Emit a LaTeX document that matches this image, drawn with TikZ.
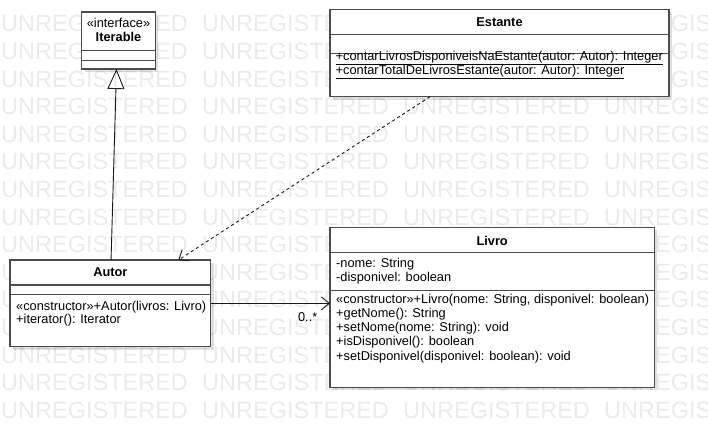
\documentclass[tikz,border=0pt]{standalone}
\usepackage{fontspec}
\setmainfont{Liberation Sans}
\usetikzlibrary{arrows.meta,calc,shadows}
\newcommand\umlfont{\fontsize{12.8}{14.3}\selectfont}
\begin{document}
\begin{tikzpicture}[x=1pt,y=-1pt,
  wm/.style={inner sep=0pt, text=black!8, font=\fontsize{23.5}{23.5}\selectfont, anchor=base west},
  box/.style={draw=black!70, line width=1.4pt, fill=white, inner sep=0pt, outer sep=0pt,
    drop shadow={shadow xshift=3pt, shadow yshift=-3pt, opacity=0.12, fill=black}},
  sep/.style={draw=black!70, line width=1.4pt},
  txt/.style={inner sep=0pt, anchor=base west, font=\umlfont},
  ttl/.style={inner sep=0pt, anchor=base, font=\umlfont\bfseries},
  conn/.style={draw=black!90, line width=0.9pt},
  barb/.style={-{Straight Barb[length=8pt,width=13pt]}},
  gen/.style={-{Triangle[open,length=20pt,width=17pt]}}
]
\useasboundingbox (0,0) rectangle (708,428);
\fill[white] (0,0) rectangle (708,428);
% watermark
\begin{scope}
\clip (0,0) rectangle (708,428);
\foreach \k in {0,...,14}{
  \foreach \j in {0,...,3}{
    \node[wm] (w-\k-\j) at ({1+201*\j},{31.8+27.6*\k}) {UNREGISTERED};
  }
}
\end{scope}

% boxes
\node[box, minimum width=73.6pt, minimum height=57pt] (iterable) at (118.5,40.5) {};
\node[box, minimum width=339pt, minimum height=87.4pt] (estante) at (499.5,53) {};
\node[box, minimum width=200.7pt, minimum height=86.7pt] (autor) at (110.35,303.35) {};
\node[box, minimum width=324.3pt, minimum height=160pt] (livro) at (492.15,307.3) {};

% separators
\draw[sep] (iterable.west |- 0,50.7) -- (iterable.east |- 0,50.7);
\draw[sep] (iterable.west |- 0,60.3) -- (iterable.east |- 0,60.3);
\draw[sep] (estante.west |- 0,34.3) -- (estante.east |- 0,34.3);
\draw[sep] (estante.west |- 0,53.3) -- (estante.east |- 0,53.3);
\draw[sep] (autor.west |- 0,285) -- (autor.east |- 0,285);
\draw[sep] (autor.west |- 0,294.3) -- (autor.east |- 0,294.3);
\draw[sep] (livro.west |- 0,252.7) -- (livro.east |- 0,252.7);
\draw[sep] (livro.west |- 0,290.7) -- (livro.east |- 0,290.7);

% texts
\node[txt, anchor=base] (it-st) at (118.5,27.3) {«interface»};
\node[ttl] (it-name) at (118.5,41.7) {Iterable};

\node[ttl] (es-name) at (499.5,26.5) {Estante};
\node[txt] (es-m1) at (335.5,60) {\underline{+contarLivrosDisponiveisNaEstante(autor: Autor): Integer}};
\node[txt] (es-m2) at (335.5,74.3) {\underline{+contarTotalDeLivrosEstante(autor: Autor): Integer}};

\node[ttl] (au-name) at (110.35,276.7) {Autor};
\node[txt] (au-m1) at (16,310) {«constructor»+Autor(livros: Livro)};
\node[txt] (au-m2) at (16,323.3) {+iterator(): Iterator};

\node[ttl] (li-name) at (492.15,245) {Livro};
\node[txt] (li-a1) at (336,267) {-nome: String};
\node[txt] (li-a2) at (336,281.5) {-disponivel: boolean};
\node[txt] (li-m1) at (336,303) {«constructor»+Livro(nome: String, disponivel: boolean)};
\node[txt] (li-m2) at (336,317.3) {+getNome(): String};
\node[txt] (li-m3) at (336,331.6) {+setNome(nome: String): void};
\node[txt] (li-m4) at (336,345.9) {+isDisponivel(): boolean};
\node[txt] (li-m5) at (336,360.2) {+setDisponivel(disponivel: boolean): void};

% connectors
\draw[conn, gen] ([xshift=0.7pt]autor.north) -- ([xshift=-2pt]iterable.south);
\draw[conn, barb, dash pattern=on 3pt off 3pt] ([xshift=-69.5pt]estante.south) -- ([xshift=68pt]autor.north);
\draw[conn, barb] (autor.east) -- (autor.east -| livro.west);
\node[txt, anchor=base east] (mult) at (317.5,321.7) {0..*};
\end{tikzpicture}
\end{document}
